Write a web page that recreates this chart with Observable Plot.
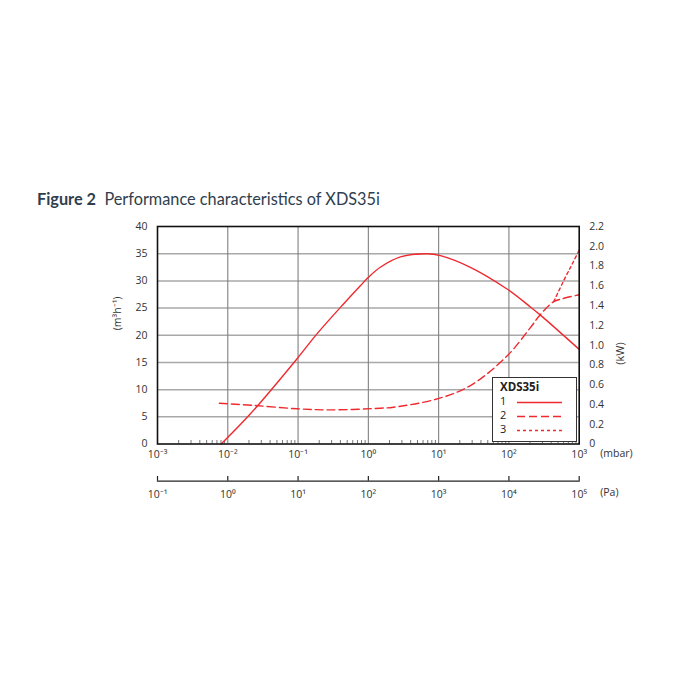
<!DOCTYPE html>
<html><head><meta charset="utf-8">
<script src="https://cdn.jsdelivr.net/npm/d3@7"></script>
<script src="https://cdn.jsdelivr.net/npm/@observablehq/plot@0.6"></script>
<style>
body{margin:0;background:#fff;font-family:"Open Sans",sans-serif;}
#wrap{position:relative;width:700px;height:700px;overflow:hidden;}
#title{position:absolute;left:37px;top:189px;font-family:Lato,"Open Sans",sans-serif;font-size:16.3px;color:#2f3e4e;white-space:nowrap;}
#title b{font-weight:700;}
#main,#pa{position:absolute;left:0;}
#main{top:0;}
#pa{top:470px;}
#legend{position:absolute;left:492px;top:377px;width:83px;height:63px;border:1.4px solid #333;background:#fff;font-size:11px;color:#222;}
</style></head><body>
<div id="wrap">
<div id="title"><b>Figure 2</b>&nbsp; Performance characteristics of XDS35i</div>
<div id="main"></div>
<div id="pa"></div>
<div id="legend"></div>
</div>
<script>
// ---- data ----
// Curve 1: pumping speed (m³h⁻¹) vs inlet pressure (mbar)
const speedPressure = [0.00805, 0.021, 0.097, 0.187, 0.447, 0.77, 1.01, 1.48, 2.86, 6.85, 10.6, 28.3, 94, 202, 281, 1000];
const speedValue    = [0,       5.55,  15.7,  20.3,  25.8,  29.1, 30.7, 32.5, 34.4, 35.0, 34.65, 32.5, 28.5, 25.2, 23.7, 17.4];
// Curve 2: power (kW), dashed
const powerPressure = [0.0076, 0.0234, 0.098, 0.29, 1.48, 2.29, 9.55, 28.3, 94, 202, 281, 434, 580, 1000];
const powerValue    = [0.4125, 0.39,   0.356, 0.345, 0.362, 0.372, 0.456, 0.591, 0.89, 1.177, 1.31, 1.44, 1.47, 1.51];
// Curve 3: power (kW), dotted
const power3Pressure = [434, 600, 794, 1000];
const power3Value    = [1.44, 1.65, 1.82, 1.96];

const leftTicks = [0, 5, 10, 15, 20, 25, 30, 35, 40];
const kwTicks = [0, 0.2, 0.4, 0.6, 0.8, 1.0, 1.2, 1.4, 1.6, 1.8, 2.0, 2.2];
const kwLabels = ["0", "0.2", "0.4", "0.6", "0.8", "1.0", "1.2", "1.4", "1.6", "1.8", "2.0", "2.2"];
const mbarExps = [-3, -2, -1, 0, 1, 2, 3];
const paExps = [-1, 0, 1, 2, 3, 4, 5];
const legendTitle = "XDS35i";
const legendItems = ["1", "2", "3"];

// ---- derived ----
const Y_MAX = 40, KW_MAX = 2.2, K = Y_MAX / KW_MAX;
const red = "#ee2a2f";
const supMap = {"-":"\u207B","0":"\u2070","1":"\u00B9","2":"\u00B2","3":"\u00B3","4":"\u2074","5":"\u2075","6":"\u2076","7":"\u2077","8":"\u2078","9":"\u2079"};
const sup = n => String(n).split("").map(c => supMap[c]).join("");
const expLabel = e => "10" + sup(e);

const curve1 = speedPressure.map((p, i) => ({p, v: speedValue[i]}));
const curve2 = powerPressure.map((p, i) => ({p, kw: powerValue[i]}));
const curve3 = power3Pressure.map((p, i) => ({p, kw: power3Value[i]}));
const majors = mbarExps.map(e => Math.pow(10, e));
const innerMajors = majors.slice(1, -1);
const minors = [];
for (const e of mbarExps.slice(0, -1)) for (let m = 2; m <= 9; m++) minors.push(m * Math.pow(10, e));
const paTicks = paExps.map(e => Math.pow(10, e));
const gridY = leftTicks.slice(1, -1);

const fontStyle = {fontFamily: "'Open Sans', sans-serif", fontSize: "10.5px", color: "#333", background: "transparent"};

const main = Plot.plot({
  width: 700, height: 480,
  marginLeft: 157, marginRight: 121.3, marginTop: 226, marginBottom: 36.5,
  style: fontStyle,
  x: {type: "log", domain: [1e-3, 1e3]},
  y: {domain: [0, Y_MAX]},
  marks: [
    Plot.ruleY(gridY, {stroke: "#a8a8a8", strokeWidth: 1.5}),
    Plot.ruleX(innerMajors, {stroke: "#808080", strokeWidth: 1.1}),
    Plot.ruleX(minors, {stroke: "#555", strokeWidth: 0.8, insetTop: 214}),
    Plot.line(curve1, {x: "p", y: "v", stroke: red, strokeWidth: 1.4, curve: "catmull-rom"}),
    Plot.line(curve2, {x: "p", y: d => d.kw * K, stroke: red, strokeWidth: 1.4, strokeDasharray: "8,4", curve: "catmull-rom"}),
    Plot.line(curve3, {x: "p", y: d => d.kw * K, stroke: red, strokeWidth: 1.4, strokeDasharray: "3,3", curve: "catmull-rom"}),
    Plot.frame({stroke: "#111", strokeWidth: 1.6}),
    Plot.axisY({anchor: "left", ticks: leftTicks, tickSize: 0, tickPadding: 10, label: null, tickFormat: d => String(d)}),
    Plot.axisY({anchor: "right", ticks: kwTicks.map(k => k * K), tickSize: 0, tickPadding: 10, label: null,
      tickFormat: v => kwLabels[kwTicks.findIndex(k => Math.abs(k * K - v) < 1e-6)]}),
    Plot.axisX({ticks: majors, tickSize: 0, tickPadding: 7, label: null, tickFormat: d => expLabel(Math.round(Math.log10(d)))}),
    Plot.text(["(m\u00B3h\u207B\u00B9)"], {frameAnchor: "left", dx: -40, dy: -5, rotate: -90, fill: "#333", fontSize: 10.5}),
    Plot.text(["(kW)"], {frameAnchor: "right", dx: 41, dy: 7, rotate: -90, fill: "#333", fontSize: 11}),
    Plot.text(["(mbar)"], {frameAnchor: "bottom-right", dx: 21, dy: 13, textAnchor: "start", fill: "#333", fontSize: 10.5})
  ]
});
document.getElementById("main").appendChild(main);

const pa = Plot.plot({
  width: 700, height: 50,
  marginLeft: 157, marginRight: 121.3, marginTop: 6, marginBottom: 39.3,
  style: fontStyle,
  x: {type: "log", domain: [paTicks[0], paTicks[paTicks.length - 1]]},
  marks: [
    Plot.ruleX(paTicks, {stroke: "#222", strokeWidth: 1.2}),
    Plot.frame({anchor: "bottom", stroke: "#222", strokeWidth: 1.2}),
    Plot.axisX({ticks: paTicks, tickSize: 0, tickPadding: 9, label: null, tickFormat: d => expLabel(Math.round(Math.log10(d)))}),
    Plot.text(["(Pa)"], {frameAnchor: "bottom-right", dx: 21, dy: 15, textAnchor: "start", fill: "#333", fontSize: 10.5})
  ]
});
document.getElementById("pa").appendChild(pa);

// legend (HTML box with line samples)
const dashes = [null, "8,4", "3,3"];
const lg = document.getElementById("legend");
let html = `<svg width="83" height="63" style="position:absolute;left:0;top:0;font-family:'Open Sans',sans-serif">`;
html += `<text x="7" y="9.5" font-size="11.5" font-weight="700" fill="#222" dominant-baseline="middle">${legendTitle}</text>`;
legendItems.forEach((t, i) => {
  const y = 24.5 + i * 14;
  html += `<text x="7" y="${y}" font-size="11" fill="#222" dominant-baseline="middle">${t}</text>`;
  html += `<line x1="24" x2="69" y1="${y}" y2="${y}" stroke="${red}" stroke-width="1.4" ${dashes[i] ? `stroke-dasharray="${dashes[i]}"` : ""}/>`;
});
html += `</svg>`;
lg.innerHTML = html;
</script>
</body></html>
